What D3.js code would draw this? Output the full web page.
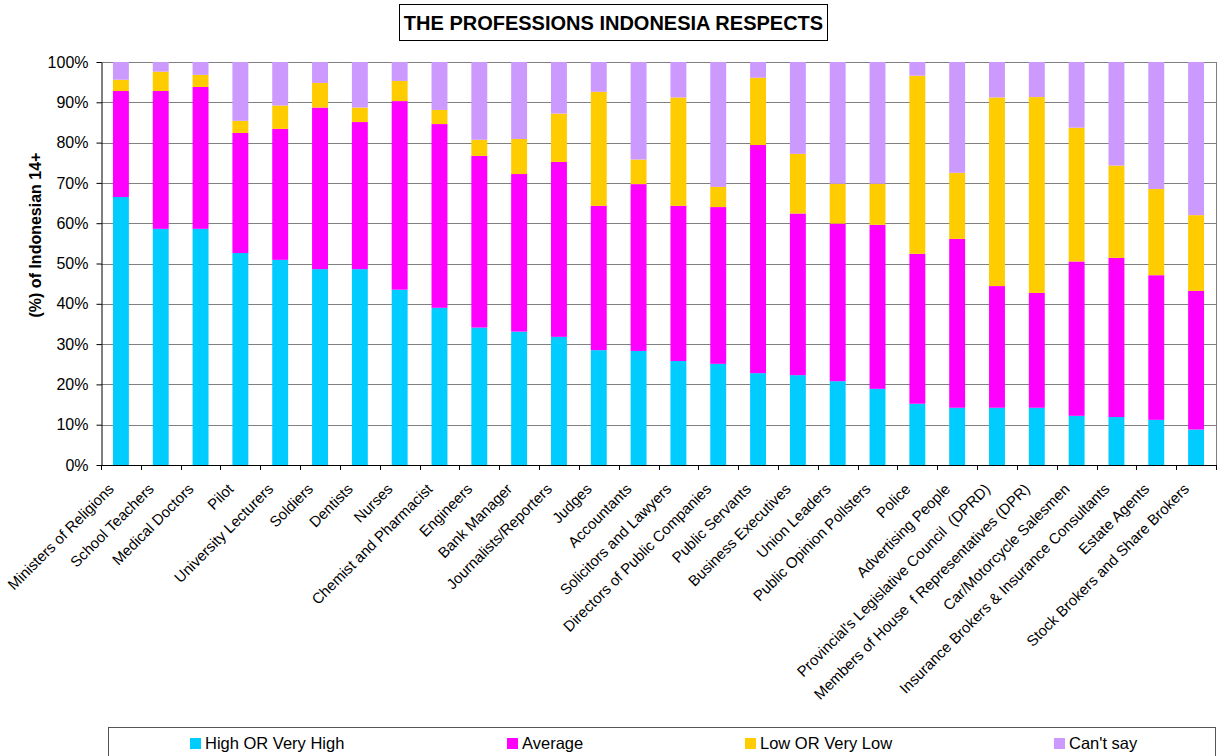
<!DOCTYPE html>
<html>
<head>
    <title>The Professions Indonesia Respects</title>
    <script src="https://cdn.jsdelivr.net/npm/d3@7"></script>
    <style>
        body {
            margin: 0;
            padding: 0;
            background-color: white;
        }

        svg text {
            font-family: "Liberation Sans", Arial, sans-serif;
            fill: black;
            white-space: pre;
        }

        .chart-title {
            font-size: 20px;
            font-weight: bold;
        }

        .axis-label {
            font-size: 16px;
            font-weight: bold;
        }

        .legend-text {
            font-size: 16.5px;
        }
    </style>
</head>
<body>
    <div id="chart"></div>

    <script>
        const professions = [
            "Ministers of Religions", "School Teachers", "Medical Doctors", "Pilot",
            "University Lecturers", "Soldiers", "Dentists", "Nurses",
            "Chemist and Pharmacist", "Engineers", "Bank Manager", "Journalists/Reporters",
            "Judges", "Accountants", "Solicitors and Lawyers", "Directors of Public Companies",
            "Public Servants", "Business Executives", "Union Leaders", "Public Opinion Pollsters",
            "Police", "Advertising People", "Provincial's Legislative Council  (DPRD)",
            "Members of House  f Representatives (DPR)", "Car/Motorcycle Salesmen",
            "Insurance Brokers & Insurance Consultants", "Estate Agents", "Stock Brokers and Share Brokers"
        ];

        const highVals = [66.5, 58.6, 58.6, 52.6, 50.9, 48.6, 48.6, 43.5, 39.0, 34.1, 33.1, 31.8,
            28.5, 28.3, 25.8, 25.1, 22.8, 22.3, 20.8, 18.9, 15.2, 14.2, 14.2, 14.2, 12.2, 11.9, 11.2, 8.8];
        const averageVals = [26.3, 34.2, 35.2, 29.8, 32.5, 40.1, 36.5, 46.8, 45.6, 42.6, 39.1, 43.4,
            35.8, 41.4, 38.5, 38.9, 56.6, 40.1, 39.1, 40.7, 37.2, 41.9, 30.2, 28.5, 38.3, 39.5, 35.9, 34.4];
        const lowVals = [2.8, 4.8, 3.0, 3.0, 5.8, 6.1, 3.6, 5.0, 3.5, 4.0, 8.7, 12.0,
            28.3, 6.1, 26.9, 5.0, 16.7, 14.8, 9.9, 10.2, 44.2, 16.4, 46.8, 48.6, 33.2, 22.9, 21.4, 18.8];
        const cantSayVals = [4.4, 2.4, 3.2, 14.6, 10.8, 5.2, 11.3, 4.7, 11.9, 19.3, 19.1, 12.8,
            7.4, 24.2, 8.8, 31.0, 3.9, 22.8, 30.2, 30.2, 3.4, 27.5, 8.8, 8.7, 16.3, 25.7, 31.5, 38.0];

        const seriesNames = ["High OR Very High", "Average", "Low OR Very Low", "Can't say"];
        const seriesColors = ["#00ccff", "#ff00ff", "#ffcc00", "#cc99ff"];
        const yTicks = [0, 10, 20, 30, 40, 50, 60, 70, 80, 90, 100];

        const data = professions.map((p, i) => ({
            name: p,
            "High OR Very High": highVals[i],
            "Average": averageVals[i],
            "Low OR Very Low": lowVals[i],
            "Can't say": cantSayVals[i]
        }));

        const W = 1219, H = 756;
        const margin = { top: 62, right: 3, bottom: 291, left: 101 };
        const width = W - margin.left - margin.right;
        const height = H - margin.top - margin.bottom;

        const svg = d3.select("#chart")
            .append("svg")
            .attr("width", W)
            .attr("height", H);

        // title box
        svg.append("rect")
            .attr("x", 399.5).attr("y", 4.5)
            .attr("width", 428).attr("height", 36)
            .attr("fill", "white").attr("stroke", "black");
        svg.append("text")
            .attr("class", "chart-title")
            .attr("x", 613.5).attr("y", 29.5)
            .attr("text-anchor", "middle")
            .text("THE PROFESSIONS INDONESIA RESPECTS");

        const g = svg.append("g")
            .attr("transform", `translate(${margin.left},${margin.top})`);

        const xScale = d3.scaleBand()
            .domain(professions)
            .range([0, width])
            .paddingInner(0.6)
            .paddingOuter(0.3);

        const yScale = d3.scaleLinear()
            .domain([0, 100])
            .range([height, 0]);

        // gridlines
        g.selectAll(".grid")
            .data(yTicks.filter(t => t > 0))
            .enter()
            .append("line")
            .attr("x1", 0).attr("x2", width)
            .attr("y1", d => Math.round(yScale(d)) + 0.5)
            .attr("y2", d => Math.round(yScale(d)) + 0.5)
            .attr("stroke", "#808080");

        g.append("line")
            .attr("x1", width + 0.5).attr("x2", width + 0.5)
            .attr("y1", 0).attr("y2", height)
            .attr("stroke", "#808080");

        // stacked bars
        const stacked = d3.stack().keys(seriesNames)(data);

        g.selectAll(".series")
            .data(stacked)
            .enter()
            .append("g")
            .attr("fill", (d, i) => seriesColors[i])
            .selectAll("rect")
            .data(d => d)
            .enter()
            .append("rect")
            .attr("x", d => xScale(d.data.name))
            .attr("width", xScale.bandwidth())
            .attr("y", d => yScale(d[1]))
            .attr("height", d => yScale(d[0]) - yScale(d[1]));

        // y axis
        const yAxis = g.append("g")
            .attr("transform", "translate(0.5,0)")
            .call(d3.axisLeft(yScale).tickValues(yTicks).tickFormat(d => d + "%").tickSize(5).tickPadding(8).tickSizeOuter(0));
        yAxis.select(".domain").attr("stroke", "black");
        yAxis.selectAll("text")
            .style("font-size", "16px")
            .style("font-family", "'Liberation Sans', Arial, sans-serif");

        // x axis line and tick marks between categories
        const step = xScale.step();
        const boundaries = professions.map(p => xScale(p) - step * 0.3).concat([width]);

        g.append("line")
            .attr("x1", 0).attr("x2", width + 1)
            .attr("y1", height + 0.5).attr("y2", height + 0.5)
            .attr("stroke", "black");

        g.selectAll(".xtick")
            .data(boundaries)
            .enter()
            .append("line")
            .attr("x1", d => Math.round(d) + 0.5)
            .attr("x2", d => Math.round(d) + 0.5)
            .attr("y1", height)
            .attr("y2", height + 5)
            .attr("stroke", "black");

        g.selectAll(".xlabel")
            .data(professions)
            .enter()
            .append("text")
            .attr("text-anchor", "end")
            .style("font-size", "15px")
            .attr("transform", d => `translate(${xScale(d) + xScale.bandwidth() / 2 - 6},${height + 25}) rotate(-45)`)
            .text(d => d);

        // y axis title
        svg.append("text")
            .attr("class", "axis-label")
            .attr("text-anchor", "middle")
            .attr("transform", "translate(41,235) rotate(-90)")
            .text("(%) of Indonesian 14+");

        // legend
        const legendX = [190, 507, 745, 1054];
        svg.append("rect")
            .attr("x", 108.5).attr("y", 727.5)
            .attr("width", 1107).attr("height", 40)
            .attr("fill", "white").attr("stroke", "#555");

        const legend = svg.selectAll(".legend-item")
            .data(seriesNames)
            .enter()
            .append("g")
            .attr("transform", (d, i) => `translate(${legendX[i]},738)`);

        legend.append("rect")
            .attr("width", 11).attr("height", 11)
            .attr("fill", (d, i) => seriesColors[i]);

        legend.append("text")
            .attr("class", "legend-text")
            .attr("x", 15).attr("y", 10.5)
            .text(d => d);
    </script>
</body>
</html>
